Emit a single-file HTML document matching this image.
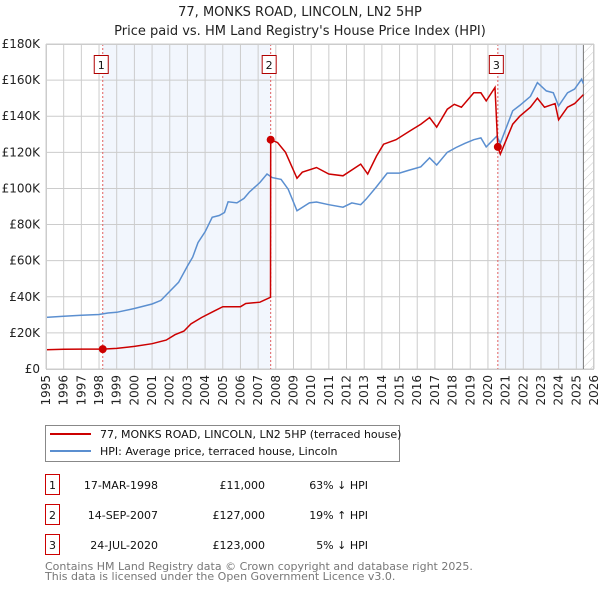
<!DOCTYPE html>
<html><head><meta charset="utf-8"><style>
body{margin:0;background:#fff;font-family:"DejaVu Sans","Liberation Sans",sans-serif;}
svg text{font-family:"DejaVu Sans","Liberation Sans",sans-serif;}
</style></head><body>
<svg id="chart" width="600" height="590" xmlns="http://www.w3.org/2000/svg">
<defs><pattern id="hatch" width="6" height="6" patternUnits="userSpaceOnUse" patternTransform="rotate(45)"><line x1="0" y1="0" x2="0" y2="6" stroke="#ccc" stroke-width="1"/></pattern></defs>
<text x="300" y="16" text-anchor="middle" font-size="13" fill="#222">77, MONKS ROAD, LINCOLN, LN2 5HP</text>
<text x="300" y="35" text-anchor="middle" font-size="13" fill="#222">Price paid vs. HM Land Registry's House Price Index (HPI)</text>
<g id="plot"></g>
<g>
<rect x="45.5" y="425.5" width="354" height="36" fill="#fff" stroke="#888"/>
<line x1="50" y1="434" x2="91" y2="434" stroke="#cc0000" stroke-width="2"/>
<text x="100" y="438" font-size="11" fill="#111">77, MONKS ROAD, LINCOLN, LN2 5HP (terraced house)</text>
<line x1="50" y1="451" x2="91" y2="451" stroke="#5b8fd0" stroke-width="2"/>
<text x="100" y="455" font-size="11" fill="#111">HPI: Average price, terraced house, Lincoln</text>
</g>
<g id="table" font-size="11" fill="#111"></g>
<text x="45" y="570" font-size="11" fill="#777">Contains HM Land Registry data © Crown copyright and database right 2025.</text>
<text x="45" y="580" font-size="11" fill="#777">This data is licensed under the Open Government Licence v3.0.</text>
</svg>
<script>
const hpiYears=[1995,1996,1997,1998,1998.5,1999,2000,2001,2001.5,2002,2002.5,2003,2003.3,2003.6,2004,2004.4,2004.8,2005.1,2005.3,2005.8,2006.2,2006.5,2007.1,2007.5,2007.8,2008.3,2008.7,2009.2,2009.9,2010.3,2011,2011.8,2012.3,2012.8,2013.1,2013.7,2014.3,2015,2015.5,2016.2,2016.7,2017.1,2017.7,2018.2,2018.7,2019.2,2019.6,2019.9,2020.5,2020.7,2021.4,2021.8,2022.4,2022.8,2023.3,2023.7,2024.0,2024.5,2024.9,2025.3,2025.4];
const hpiValues=[28.6,29.2,29.8,30.2,31,31.4,33.5,36,38,43,48,57,62,70,76,84,85,86.7,92.6,92,94.5,98,103.3,108,106,105,99.6,87.6,92,92.5,91,89.6,92,91,94,101,108.5,108.5,110,112,117,113,120,122.7,125,127,128,123,129,125,143,146,151,158.6,154,153,145.7,153,155,160.5,158];
const propYears=[1995,1996,1997,1998.2,1999,2000,2001,2001.8,2002.3,2002.8,2003.2,2003.8,2004.5,2005,2006,2006.3,2007.1,2007.7,2007.71,2008.1,2008.55,2009.2,2009.5,2010.3,2011,2011.8,2012.8,2013.2,2013.7,2014.1,2014.8,2015.6,2016.2,2016.7,2017.1,2017.7,2018.1,2018.5,2019.2,2019.6,2019.9,2020.4,2020.56,2020.7,2021.4,2021.8,2022.4,2022.8,2023.2,2023.8,2024.0,2024.5,2024.9,2025.4];
const propValues=[10.7,10.9,11,11,11.4,12.5,14,16,19,21,25,28.5,32,34.5,34.5,36.3,37,39.7,127,125.4,120,105.6,109,111.6,108,107,113.5,108,118,124.5,127,131.9,135.6,139.3,134,143.9,146.6,145,153,153,148.5,155.9,123,119,135.6,140,145,150,145,147,138,145,147,152];
const saleYears=[1998.21,2007.71,2020.56];
const saleValues=[11,127,123];
const saleLabels=["1","2","3"];
const saleDates=["17-MAR-1998","14-SEP-2007","24-JUL-2020"];
const salePrices=["£11,000","£127,000","£123,000"];
const saleDiffs=["63% ↓ HPI","19% ↑ HPI","5% ↓ HPI"];
const yTicks=[0,20,40,60,80,100,120,140,160,180];
const xTicks=[1995,1996,1997,1998,1999,2000,2001,2002,2003,2004,2005,2006,2007,2008,2009,2010,2011,2012,2013,2014,2015,2016,2017,2018,2019,2020,2021,2022,2023,2024,2025,2026];

const NS="http://www.w3.org/2000/svg";
const X0=46,X1=594,Y0=369,Y1=44;
const xs=y=>X0+(y-1995)/(2026-1995)*(X1-X0);
const ys=v=>Y0-v/180*(Y0-Y1);
const plot=document.getElementById('plot');
function mk(tag,at,parent){const e=document.createElementNS(NS,tag);for(const k in at)e.setAttribute(k,at[k]);(parent||plot).appendChild(e);return e;}
let e;
e=mk('rect',{x:X0,y:Y1,width:X1-X0,height:Y0-Y1,fill:'#fff'});


e=mk('rect',{x:xs(saleYears[0]),y:Y1,width:xs(saleYears[1])-xs(saleYears[0]),height:Y0-Y1,fill:'#f2f6fd'});


e=mk('rect',{x:xs(saleYears[2]),y:Y1,width:xs(2025.4)-xs(saleYears[2]),height:Y0-Y1,fill:'#f2f6fd'});


e=mk('rect',{x:xs(2025.4),y:Y1,width:X1-xs(2025.4),height:Y0-Y1,fill:'url(#hatch)'});


xTicks.forEach(t=>{
 e=mk('line',{x1:xs(t),x2:xs(t),y1:Y1,y2:Y0,stroke:'#ccc','stroke-width':1});
 
 
 const tx=xs(t)+4, ty=Y0+6;
 e=mk('text',{x:tx,y:ty,'text-anchor':'end','font-size':12,fill:'#222',transform:'rotate(-90 '+tx+' '+ty+')'});
 e.textContent=t;
 
 
});
yTicks.forEach(t=>{
 e=mk('line',{x1:X0,x2:X1,y1:ys(t),y2:ys(t),stroke:'#ccc','stroke-width':1});
 
 
 e=mk('text',{x:X0-6,y:ys(t)+4,'text-anchor':'end','font-size':12,fill:'#222'});
 e.textContent=t===0?'£0':'£'+t+'K';
 
 
});
e=mk('line',{x1:xs(2025.4),x2:xs(2025.4),y1:Y1,y2:Y0,stroke:'#777','stroke-width':1});


saleYears.forEach((s,i)=>{
 e=mk('line',{x1:xs(s),x2:xs(s),y1:Y1,y2:Y0,stroke:'#e06060','stroke-width':1,'stroke-dasharray':'2,2'});
 
 
});
const pts=(a,b)=>a.map((y,i)=>xs(y).toFixed(1)+','+ys(b[i]).toFixed(1)).join(' ');
e=mk('polyline',{points:pts(hpiYears,hpiValues),fill:'none',stroke:'#5b8fd0','stroke-width':1.5});


e=mk('polyline',{points:pts(propYears,propValues),fill:'none',stroke:'#cc0000','stroke-width':1.5});


saleYears.forEach((s,i)=>{
 e=mk('circle',{cx:xs(s),cy:ys(saleValues[i]),r:4,fill:'#cc0000'});
 
 
 const bx=xs(s)-8;
 e=mk('rect',{x:bx-0.5,y:55.5,width:14,height:18,fill:'#fff',stroke:'#b00000'});
 
 
 e=mk('text',{x:bx+6.5,y:69,'text-anchor':'middle','font-size':11,fill:'#111'});
 e.textContent=saleLabels[i];
 
 
});
e=mk('rect',{x:X0+0.5,y:Y1+0.5,width:X1-X0-1,height:Y0-Y1,fill:'none',stroke:'#ccc'});


const tb=document.getElementById('table');
saleLabels.forEach((l,i)=>{
 const cy=485+i*30;
 e=mk('rect',{x:45.5,y:cy-10.5,width:14,height:20,fill:'#fff',stroke:'#cc0000'},tb);
 
 
 e=mk('text',{x:52.5,y:cy+4,'text-anchor':'middle'},tb);e.textContent=l;
 
 
 e=mk('text',{x:158,y:cy+4,'text-anchor':'end'},tb);e.textContent=saleDates[i];
 
 
 e=mk('text',{x:265,y:cy+4,'text-anchor':'end'},tb);e.textContent=salePrices[i];
 
 
 e=mk('text',{x:368,y:cy+4,'text-anchor':'end'},tb);e.textContent=saleDiffs[i];
 
 
});
</script>
</body></html>
